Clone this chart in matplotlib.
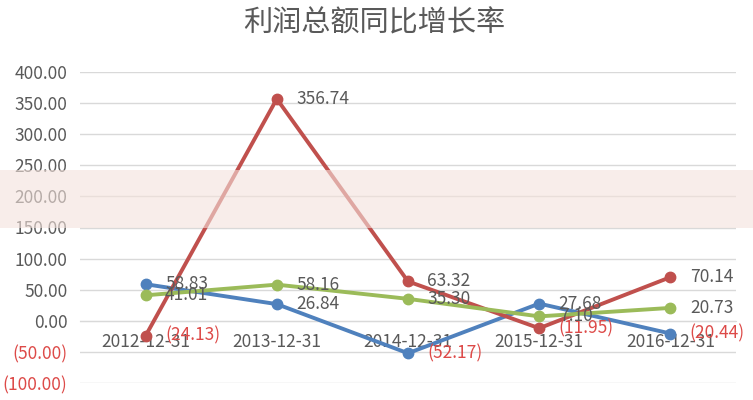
import numpy as np
import matplotlib.pyplot as plt
from matplotlib.patches import Rectangle

plt.rcParams['font.family'] = ['Noto Sans CJK SC', 'DejaVu Sans']

dates = ['2012-12-31', '2013-12-31', '2014-12-31', '2015-12-31', '2016-12-31']
blue_vals = [58.83, 26.84, -52.17, 27.68, -20.44]
red_vals = [-24.13, 356.74, 63.32, -11.95, 70.14]
green_vals = [41.01, 58.16, 35.30, 7.10, 20.73]
yticks = [-100, -50, 0, 50, 100, 150, 200, 250, 300, 350, 400]

gray = '#595959'
neg_red = '#dd4a48'


def fmt(v):
    return '({:.2f})'.format(abs(v)) if v < 0 else '{:.2f}'.format(v)


fig = plt.figure(figsize=(7.53, 4.0), dpi=100)
ax = fig.add_axes([80 / 753, 1 - 383 / 400, 656 / 753, 311 / 400])

x = np.arange(len(dates))
series = [(blue_vals, '#4f81bd'), (red_vals, '#c0504d'), (green_vals, '#9bbb59')]
for vals, col in series:
    ax.plot(x, vals, '-o', color=col, linewidth=2.8, markersize=7.5, zorder=3)
    for xi, v in zip(x, vals):
        ax.annotate(fmt(v), (xi, v), xytext=(14, 0), textcoords='offset points',
                    va='center', ha='left', fontsize=12.5,
                    color=neg_red if v < 0 else gray, zorder=4)

ax.set_xlim(-0.5, 4.5)
ax.set_ylim(-100, 400)
ax.set_yticks(yticks)
ax.set_yticklabels([fmt(t) for t in yticks], fontsize=12.5)
for lab, t in zip(ax.get_yticklabels(), yticks):
    lab.set_color(neg_red if t < 0 else gray)
ax.grid(axis='y', color='#d9d9d9', linewidth=1)
ax.set_axisbelow(True)
for s in ['left', 'right', 'top']:
    ax.spines[s].set_visible(False)
ax.spines['bottom'].set_position(('data', 0))
ax.spines['bottom'].set_color('#d9d9d9')
ax.set_xticks(x)
ax.set_xticklabels(dates, fontsize=12.5, color=gray)
ax.tick_params(axis='both', length=0)
ax.tick_params(axis='x', pad=9)
ax.tick_params(axis='y', pad=9)

fig.text(0.497, 1 - 23 / 400, '利润总额同比增长率', ha='center', va='center',
         fontsize=21, color=gray)

# pale band across the middle of the picture
fig.patches.append(Rectangle((0, 1 - 228 / 400), 1, 58 / 400, transform=fig.transFigure,
                             facecolor='#f4e2dc', alpha=0.6, edgecolor='none', zorder=10))

fig.savefig('out.png', dpi=100)
